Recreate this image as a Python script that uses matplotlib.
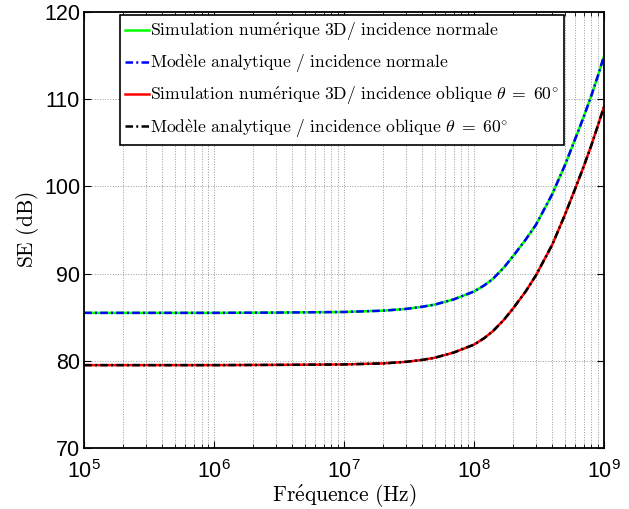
import matplotlib
matplotlib.use('Agg')

import matplotlib.pyplot as plt
from matplotlib.ticker import LogLocator, NullFormatter

plt.rcParams['font.family'] = 'Liberation Sans'
plt.rcParams['mathtext.fontset'] = 'cm'

# frequencies (Hz) and SE (dB)
freq = [1e5, 3e5, 1e6, 3e6, 1e7, 2e7, 3e7, 4e7, 5e7, 7e7, 1e8, 1.2e8, 1.4e8,
        1.7e8, 2e8, 2.5e8, 3e8, 4e8, 5e8, 6e8, 7e8, 8e8, 9e8, 1e9]
se_sim_normal = [85.5, 85.5, 85.5, 85.53, 85.6, 85.75, 85.95, 86.2, 86.45, 87.05,
                 87.95, 88.65, 89.4, 90.7, 92.0, 93.9, 95.6, 99.1, 102.4, 105.4,
                 108.0, 110.4, 112.7, 114.9]
se_ana_normal = se_sim_normal
se_sim_oblique = [79.5, 79.5, 79.5, 79.53, 79.58, 79.7, 79.88, 80.1, 80.35, 80.95,
                  81.85, 82.6, 83.4, 84.7, 86.0, 87.95, 89.8, 93.3, 96.7, 99.7,
                  102.3, 104.7, 107.0, 109.1]
se_ana_oblique = se_sim_oblique

labels = [r'$\mathrm{Simulation\ num\'erique\ 3D/\ incidence\ normale}$',
          r'$\mathrm{Mod\`ele\ analytique\ /\ incidence\ normale}$',
          r'$\mathrm{Simulation\ num\'erique\ 3D/\ incidence\ oblique}\ \theta\;=\;60^{\circ}$',
          r'$\mathrm{Mod\`ele\ analytique\ /\ incidence\ oblique}\ \theta\;=\;60^{\circ}$']

fig = plt.figure(figsize=(6.29, 5.09), dpi=100)
ax = fig.add_axes([0.134, 0.120, 0.826, 0.856])

lw = 1.8
dashdot = (3.0, 1.3, 0.8, 1.3)
ax.plot(freq, se_sim_normal, '-', color='#00ff00', lw=lw, label=labels[0])
ax.plot(freq, se_ana_normal, color='#0000ff', lw=lw, dashes=dashdot, label=labels[1])
ax.plot(freq, se_sim_oblique, '-', color='#ff0000', lw=lw, label=labels[2])
ax.plot(freq, se_ana_oblique, color='black', lw=lw, dashes=dashdot, label=labels[3])

ax.set_xscale('log')
ax.set_xlim(1e5, 1e9)
ax.set_ylim(70, 120)
ax.set_yticks([70, 80, 90, 100, 110, 120])
ax.xaxis.set_minor_locator(LogLocator(base=10, subs=range(2, 10)))
ax.xaxis.set_minor_formatter(NullFormatter())

ax.grid(True, which='major', axis='both', linestyle=':', color='0.6', lw=0.7)
ax.grid(True, which='minor', axis='x', linestyle=':', color='0.6', lw=0.7)

ax.tick_params(which='both', direction='in', top=True, right=True, labelsize=15.5)
ax.tick_params(which='major', length=5)
ax.tick_params(which='minor', length=3)
ax.tick_params(axis='x', pad=9)
ax.tick_params(axis='y', pad=3)
for s in ax.spines.values():
    s.set_linewidth(1.3)

ax.set_xlabel(r'$\mathrm{Fr\'equence\ (Hz)}$', fontsize=15.5, labelpad=-1)
ax.set_ylabel(r'$\mathrm{SE\ (dB)}$', fontsize=15.5, labelpad=2)

leg = ax.legend(loc='upper right', bbox_to_anchor=(0.9236, 0.9938),
                borderaxespad=0, fontsize=12.7, fancybox=False, framealpha=1,
                edgecolor='black', handlelength=1.35, handletextpad=0.05,
                labelspacing=0.55, borderpad=0.3)
leg.get_frame().set_linewidth(1.2)

fig.savefig('out.png', dpi=100)
